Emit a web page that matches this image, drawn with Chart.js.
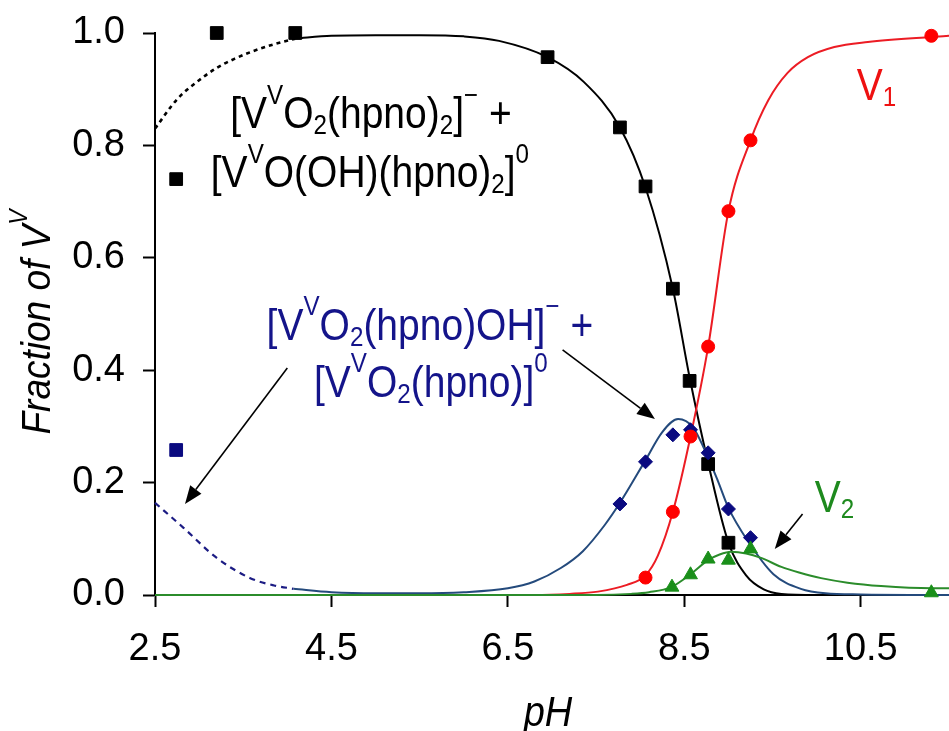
<!DOCTYPE html>
<html lang="en">
<head>
<meta charset="UTF-8">
<script src="https://cdn.jsdelivr.net/npm/chart.js"></script>
<title>Fraction of V(V) vs pH</title>
<style>
  html, body { margin: 0; padding: 0; background: #fff; }
</style>
</head>
<body>
<canvas id="myChart" width="949" height="731"></canvas>
<script>
// axis ticks
const xTicks = [2.5, 4.5, 6.5, 8.5, 10.5];
const yTicks = [0, 0.2, 0.4, 0.6, 0.8, 1.0];

// measured points
const sqX = [3.2, 4.09, 2.74, 6.95, 7.77, 8.06, 8.37, 8.56, 8.77, 9.0];
const sqY = [1.0, 1.0, 0.74, 0.957, 0.832, 0.727, 0.545, 0.381, 0.233, 0.093];
const navySqX = [2.74];
const navySqY = [0.258];
const diaX = [7.77, 8.06, 8.37, 8.57, 8.77, 9.0, 9.25];
const diaY = [0.162, 0.237, 0.285, 0.294, 0.253, 0.153, 0.102];
const redX = [8.06, 8.37, 8.57, 8.77, 9.0, 9.25, 11.3];
const redY = [0.031, 0.148, 0.282, 0.442, 0.683, 0.809, 0.995];
const grnX = [8.36, 8.57, 8.77, 9.0, 9.25, 11.3];
const grnY = [0.014, 0.036, 0.064, 0.062, 0.082, 0.004];

// fitted curves
const blackExtX = [2.5, 2.75, 3.0, 3.2, 3.4, 3.6, 3.85, 4.09];
const blackExtY = [0.83, 0.882, 0.916, 0.938, 0.954, 0.967, 0.98, 0.99];
const blackFitX = [4.09, 4.5, 5.0, 5.5, 6.0, 6.4, 6.95, 7.36, 7.77, 8.06, 8.37, 8.56, 8.77, 9.0, 9.2, 9.4, 9.6, 10.0, 11.5];
const blackFitY = [0.99, 0.995, 0.996, 0.996, 0.994, 0.986, 0.957, 0.913, 0.832, 0.725, 0.545, 0.387, 0.235, 0.093, 0.035, 0.01, 0.002, 0, 0];
const blueExtX = [2.5, 2.82, 3.2, 3.58, 3.85, 4.07];
const blueExtY = [0.164, 0.12, 0.066, 0.03, 0.017, 0.011];
const blueFitX = [4.07, 4.5, 5.0, 5.5, 6.0, 6.5, 6.8, 7.1, 7.35, 7.6, 7.77, 8.06, 8.25, 8.43, 8.6, 8.72, 8.88, 9.0, 9.22, 9.51, 9.82, 10.1, 10.5, 11.5];
const blueFitY = [0.011, 0.005, 0.003, 0.003, 0.005, 0.012, 0.024, 0.048, 0.078, 0.125, 0.164, 0.24, 0.29, 0.313, 0.298, 0.262, 0.203, 0.155, 0.096, 0.037, 0.011, 0.003, 0.001, 0];
const redFitX = [2.5, 6.8, 7.2, 7.52, 7.85, 8.06, 8.2, 8.37, 8.57, 8.77, 9.0, 9.25, 9.45, 9.67, 9.9, 10.2, 10.58, 11.3, 11.5];
const redFitY = [0, 0, 0.002, 0.006, 0.018, 0.035, 0.07, 0.148, 0.282, 0.442, 0.683, 0.809, 0.88, 0.929, 0.957, 0.975, 0.984, 0.993, 0.995];
const grnFitX = [2.5, 7.5, 7.9, 8.1, 8.35, 8.57, 8.77, 8.9, 9.03, 9.2, 9.37, 9.6, 9.8, 10.05, 10.35, 10.73, 11.3, 11.5];
const grnFitY = [0, 0, 0.002, 0.005, 0.014, 0.037, 0.062, 0.072, 0.077, 0.074, 0.066, 0.05, 0.04, 0.03, 0.022, 0.016, 0.012, 0.012];

const FONT = '"Liberation Sans", Arial, sans-serif';
const NAVY = '#14148a';

function pts(xs, ys) {
  return xs.map((x, i) => ({ x: x, y: ys[i] }));
}

function curve(xs, ys, color, dash, width) {
  return {
    data: pts(xs, ys), showLine: true, borderColor: color, borderWidth: width || 2,
    borderDash: dash || [], pointRadius: 0, cubicInterpolationMode: 'monotone',
    fill: false, clip: false, order: 5
  };
}

function marks(xs, ys, color, style, r) {
  return {
    data: pts(xs, ys), showLine: false, pointStyle: style, pointRadius: r,
    backgroundColor: color, borderColor: color, borderWidth: 1, clip: false, order: 1
  };
}

// labels: [text, mode]
const blackLabel1 = [['[V', ''], ['V', 'sup'], ['O', ''], ['2', 'sub'], ['(hpno)', ''], ['2', 'sub'], [']', ''], ['\u2212', 'sup'], [' +', '']];
const blackLabel2 = [['[V', ''], ['V', 'sup'], ['O(OH)(hpno)', ''], ['2', 'sub'], [']', ''], ['0', 'sup']];
const navyLabel1 = [['[V', ''], ['V', 'sup'], ['O', ''], ['2', 'sub'], ['(hpno)OH]', ''], ['\u2212', 'sup'], [' +', '']];
const navyLabel2 = [['[V', ''], ['V', 'sup'], ['O', ''], ['2', 'sub'], ['(hpno)]', ''], ['0', 'sup']];
const v1Label = [['V', ''], ['1', 'sub']];
const v2Label = [['V', ''], ['2', 'sub']];

const notes = [
  { segs: blackLabel1, x: 4.948, y: 0.831, color: '#000', align: 'center' },
  { segs: blackLabel2, x: 4.936, y: 0.726, color: '#000', align: 'center' },
  { segs: navyLabel1, x: 5.616, y: 0.454, color: NAVY, align: 'center' },
  { segs: navyLabel2, x: 5.627, y: 0.3525, color: NAVY, align: 'center' },
  { segs: v1Label, x: 10.455, y: 0.881, color: '#ee1111', align: 'left' },
  { segs: v2Label, x: 9.979, y: 0.148, color: '#1e8a1e', align: 'left' }
];
const arrows = [
  [4.0, 0.404, 2.84, 0.162],
  [7.12, 0.436, 8.167, 0.313],
  [9.84, 0.144, 9.525, 0.082]
];

function segFont(size, mode, italic) {
  const s = mode ? size * 0.62 : size;
  return (italic ? 'italic ' : '') + s.toFixed(1) + 'px ' + FONT;
}

// rich text with super/subscripts; stretch > 1 makes glyphs taller
function drawRich(ctx, segs, x, y, size, color, align, italic, stretch) {
  let w = 0;
  segs.forEach(s => { ctx.font = segFont(size, s[1], italic); w += ctx.measureText(s[0]).width; });
  let cx = align === 'center' ? x - w / 2 : x;
  ctx.save();
  ctx.translate(0, y);
  ctx.scale(1, stretch || 1);
  ctx.fillStyle = color;
  ctx.textBaseline = 'alphabetic';
  ctx.textAlign = 'left';
  segs.forEach(s => {
    ctx.font = segFont(size, s[1], italic);
    let dy = 0;
    if (s[1] === 'sup') dy = -size * 0.56;
    if (s[1] === 'sub') dy = size * 0.14;
    ctx.fillText(s[0], cx, dy);
    cx += ctx.measureText(s[0]).width;
  });
  ctx.restore();
}

function drawArrow(ctx, x1, y1, x2, y2) {
  const a = Math.atan2(y2 - y1, x2 - x1);
  const len = 18, hw = 7;
  const bx = x2 - Math.cos(a) * len, by = y2 - Math.sin(a) * len;
  ctx.strokeStyle = '#000';
  ctx.lineWidth = 1.6;
  ctx.beginPath();
  ctx.moveTo(x1, y1);
  ctx.lineTo(bx, by);
  ctx.stroke();
  ctx.fillStyle = '#000';
  ctx.beginPath();
  ctx.moveTo(x2, y2);
  ctx.lineTo(bx - Math.sin(a) * hw, by + Math.cos(a) * hw);
  ctx.lineTo(bx + Math.sin(a) * hw, by - Math.cos(a) * hw);
  ctx.closePath();
  ctx.fill();
}

const labelsPlugin = {
  id: 'labels',
  afterDatasetsDraw(chart) {
    const ctx = chart.ctx;
    const xs = chart.scales.x, ys = chart.scales.y;
    ctx.save();
    notes.forEach(n => {
      drawRich(ctx, n.segs, xs.getPixelForValue(n.x), ys.getPixelForValue(n.y), 39, n.color, n.align, false, 1.12);
    });
    arrows.forEach(a => {
      drawArrow(ctx, xs.getPixelForValue(a[0]), ys.getPixelForValue(a[1]), xs.getPixelForValue(a[2]), ys.getPixelForValue(a[3]));
    });
    // axis titles
    drawRich(ctx, [['pH', '']], 548, 726, 38, '#000', 'center', true, 1.1);
    ctx.translate(50, 322);
    ctx.rotate(-Math.PI / 2);
    drawRich(ctx, [['Fraction of V', ''], ['V', 'sup']], 0, 0, 37, '#000', 'center', true, 1.1);
    ctx.restore();
  }
};

const tickFont = { family: FONT, size: 38 };

function noPad(s) {
  s.paddingTop = 0; s.paddingBottom = 0; s.paddingLeft = 0; s.paddingRight = 0;
}

// first datasets in the list end up on top
new Chart(document.getElementById('myChart'), {
  type: 'scatter',
  data: {
    datasets: [
      marks(grnX, grnY, '#1a8f1a', 'triangle', 8),
      marks(redX, redY, '#ff0000', 'circle', 6.5),
      marks(diaX, diaY, '#0a0a80', 'rectRot', 7),
      marks(sqX, sqY, '#000', 'rect', 9),
      marks(navySqX, navySqY, '#0a0a80', 'rect', 9),
      curve(grnFitX, grnFitY, '#2b8c2b', null, 2),
      curve(redFitX, redFitY, '#ec1c24', null, 2),
      curve(blueFitX, blueFitY, '#244a7c', null, 2),
      curve(blueExtX, blueExtY, '#1c1c84', [6, 5], 2.2),
      curve(blackFitX, blackFitY, '#000', null, 2),
      curve(blackExtX, blackExtY, '#000', [4, 4], 2.6)
    ]
  },
  options: {
    responsive: false,
    animation: false,
    events: [],
    layout: { autoPadding: false, padding: { top: 33, left: 0, right: 0, bottom: 0 } },
    plugins: { legend: { display: false }, tooltip: { enabled: false } },
    scales: {
      x: {
        type: 'linear', min: 2.5, max: 11.5,
        afterBuildTicks: s => { s.ticks = xTicks.map(v => ({ value: v })); },
        afterFit: s => { s.height = 136; noPad(s); },
        ticks: { font: tickFont, color: '#000', padding: 20, maxRotation: 0, callback: v => v.toFixed(1) },
        grid: { drawOnChartArea: false, drawTicks: true, tickLength: 12, tickWidth: 2, tickColor: '#000' },
        border: { display: true, color: '#000', width: 2 }
      },
      y: {
        min: 0, max: 1,
        afterBuildTicks: s => { s.ticks = yTicks.map(v => ({ value: v })); },
        afterFit: s => { s.width = 155; noPad(s); },
        ticks: { font: tickFont, color: '#000', padding: 18, callback: v => v.toFixed(1) },
        grid: { drawOnChartArea: false, drawTicks: true, tickLength: 12, tickWidth: 2, tickColor: '#000' },
        border: { display: true, color: '#000', width: 2 }
      }
    }
  },
  plugins: [labelsPlugin]
});
</script>
</body>
</html>
